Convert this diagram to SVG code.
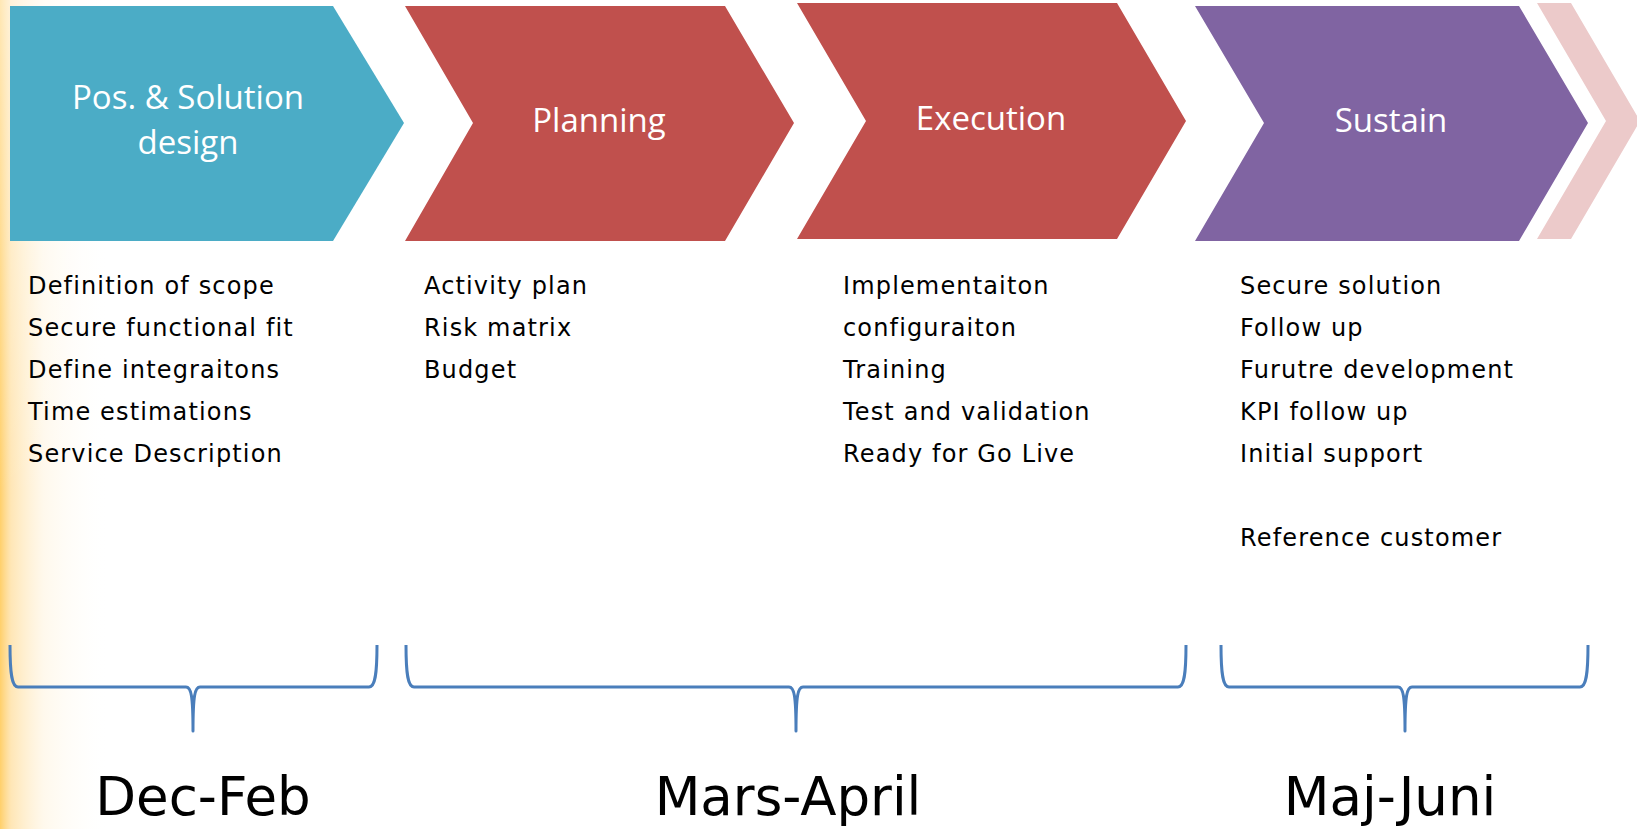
<svg xmlns="http://www.w3.org/2000/svg" width="1637" height="829" viewBox="0 0 1637 829">
<defs>
<linearGradient id="glow" x1="0" y1="0" x2="1" y2="0">
<stop offset="0" stop-color="#FFC750" stop-opacity="0.85"/>
<stop offset="0.1" stop-color="#FFD27A" stop-opacity="0.55"/>
<stop offset="0.4" stop-color="#FFE6B5" stop-opacity="0.25"/>
<stop offset="1" stop-color="#FFFFFF" stop-opacity="0"/>
</linearGradient>
<linearGradient id="glowV" x1="0" y1="0" x2="0" y2="1">
<stop offset="0" stop-color="#FFFFFF" stop-opacity="0.5"/>
<stop offset="0.6" stop-color="#FFFFFF" stop-opacity="0"/>
</linearGradient>
<style>
.title{font-family:"Open Sans",sans-serif;font-size:33px;fill:#FFFFFF;text-anchor:middle}
.item{font-family:"DejaVu Sans",sans-serif;font-size:24px;letter-spacing:1.15px;fill:#000000}
.date{font-family:"DejaVu Sans",sans-serif;font-size:53px;fill:#000000;text-anchor:middle}
.brace{fill:none;stroke:#4A7EBB;stroke-width:3;stroke-linejoin:round;stroke-linecap:butt}
</style>
</defs>
<rect x="0" y="0" width="1637" height="829" fill="#FFFFFF"/>
<rect x="0" y="0" width="110" height="829" fill="url(#glow)"/>
<rect x="0" y="0" width="110" height="829" fill="url(#glowV)"/>

<g id="phase-design">
<polygon points="10,6 333,6 404,123 333,241 10,241" fill="#4BACC6"/>
<text class="title" x="188" y="109">Pos. &amp; Solution</text>
<text class="title" x="188" y="154">design</text>
</g>
<g id="phase-planning">
<polygon points="405,6 725,6 794,123 725,241 405,241 473,123" fill="#C0504D"/>
<text class="title" x="599" y="132">Planning</text>
</g>
<g id="phase-execution">
<polygon points="797,3 1117,3 1186,121 1117,239 797,239 866,121" fill="#C0504D"/>
<text class="title" x="991" y="130">Execution</text>
</g>
<g id="phase-sustain">
<polygon points="1195,6 1519,6 1588,123 1519,241 1195,241 1264,123" fill="#8064A2"/>
<text class="title" x="1391" y="132">Sustain</text>
</g>
<g id="phase-next">
<polygon points="1537,3 1571,3 1640,121 1571,239 1537,239 1606,121" fill="#ECCACA"/>
</g>

<g id="list-design">
<text class="item" x="28" y="294">Definition of scope</text>
<text class="item" x="28" y="336">Secure functional fit</text>
<text class="item" x="28" y="378">Define integraitons</text>
<text class="item" x="28" y="420">Time estimations</text>
<text class="item" x="28" y="462">Service Description</text>
</g>
<g id="list-planning">
<text class="item" x="424" y="294">Activity plan</text>
<text class="item" x="424" y="336">Risk matrix</text>
<text class="item" x="424" y="378">Budget</text>
</g>
<g id="list-execution">
<text class="item" x="843" y="294">Implementaiton</text>
<text class="item" x="843" y="336">configuraiton</text>
<text class="item" x="843" y="378">Training</text>
<text class="item" x="843" y="420">Test and validation</text>
<text class="item" x="843" y="462">Ready for Go Live</text>
</g>
<g id="list-sustain">
<text class="item" x="1240" y="294">Secure solution</text>
<text class="item" x="1240" y="336">Follow up</text>
<text class="item" x="1240" y="378">Furutre development</text>
<text class="item" x="1240" y="420">KPI follow up</text>
<text class="item" x="1240" y="462">Initial support</text>
<text class="item" x="1240" y="546">Reference customer</text>
</g>

<g id="connectors">
<path class="brace" d="M10,645 C10,675 12,687 18,687 H186 C191,687 193,695 193,731 C193,695 195,687 200,687 H369 C375,687 377,675 377,645"/>
<path class="brace" d="M406,645 C406,675 408,687 414,687 H789 C794,687 796,695 796,731 C796,695 798,687 803,687 H1178 C1184,687 1186,675 1186,645"/>
<path class="brace" d="M1221,645 C1221,675 1223,687 1229,687 H1398 C1403,687 1405,695 1405,731 C1405,695 1407,687 1412,687 H1580 C1586,687 1588,675 1588,645"/>
</g>

<g id="dates">
<text class="date" x="203" y="815">Dec-Feb</text>
<text class="date" x="788" y="815">Mars-April</text>
<text class="date" x="1390" y="815">Maj-Juni</text>
</g>
</svg>
